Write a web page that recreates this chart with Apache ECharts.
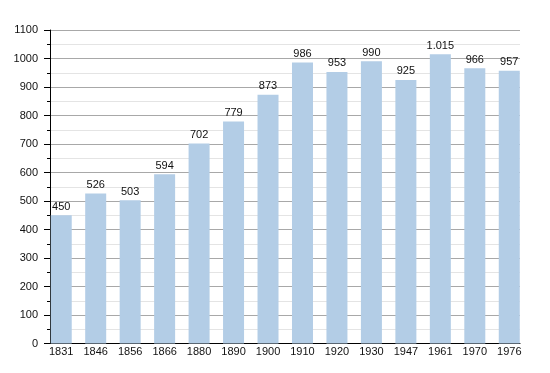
<!DOCTYPE html>
<html><head><meta charset="utf-8">
<script src="https://cdn.jsdelivr.net/npm/echarts@6/dist/echarts.min.js"></script>
<style>html,body{margin:0;padding:0;background:#fff}#c{width:550px;height:373px}</style>
</head><body><div id="c"></div>
<script>
const years = ['1831','1846','1856','1866','1880','1890','1900','1910','1920','1930','1947','1961','1970','1976'];
const population = [450,526,503,594,702,779,873,986,953,990,925,1015,966,957];
const yMin = 0, yMax = 1100, yStep = 100;

const font = "'Liberation Sans', Arial, sans-serif";
const chart = echarts.init(document.getElementById('c'), null, {renderer:'canvas'});
chart.setOption({
  animation: false,
  backgroundColor: '#fff',
  grid: [
    {left: 50, right: 30, top: 30, bottom: 29.5},
    {left: 44, width: 482.5, top: 30, bottom: 29.5}
  ],
  xAxis: [
    {gridIndex: 0, type: 'value', min: 0, max: 1,
     axisLine: {show: true, onZero: false, lineStyle: {color: '#000', width: 1}},
     axisTick: {show: false}, axisLabel: {show: false}, splitLine: {show: false}},
    {gridIndex: 1, type: 'category', data: years, boundaryGap: true,
     axisLine: {show: false}, axisTick: {show: false},
     axisLabel: {color: '#111', fontSize: 11, fontFamily: font, margin: 3},
     splitLine: {show: false}}
  ],
  yAxis: [
    {gridIndex: 0, type: 'value', min: yMin, max: yMax, interval: yStep,
     axisLine: {show: true, lineStyle: {color: '#000', width: 1}},
     axisTick: {show: true, inside: false, length: 6, lineStyle: {color: '#000'}},
     minorTick: {show: true, splitNumber: 2, length: 3, lineStyle: {color: '#000'}},
     axisLabel: {color: '#111', fontSize: 11, fontFamily: font, margin: 12, formatter: v => String(v)},
     splitLine: {show: true, lineStyle: {color: '#a8a8a8', width: 1}},
     minorSplitLine: {show: true, lineStyle: {color: '#e4e4e4', width: 1}}},
    {gridIndex: 1, type: 'value', min: yMin, max: yMax, show: false,
     splitLine: {show: false}}
  ],
  series: [{
    type: 'bar', xAxisIndex: 1, yAxisIndex: 1,
    data: population, barWidth: 21,
    itemStyle: {color: '#b3cde6'},
    label: {show: true, position: 'top', distance: 3, color: '#111', fontSize: 11, fontFamily: font,
      formatter: p => p.value >= 1000 ? Math.floor(p.value/1000) + '.' + String(p.value%1000).padStart(3,'0') : String(p.value)}
  }]
});
</script></body></html>
